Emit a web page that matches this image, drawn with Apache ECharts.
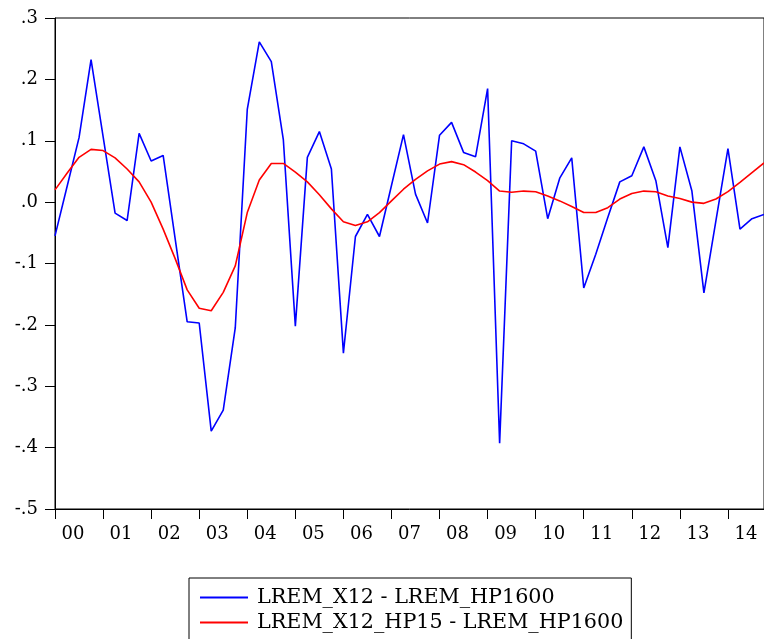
<!DOCTYPE html>
<html>
<head>
<meta charset="utf-8">
<script src="https://cdn.jsdelivr.net/npm/echarts@6/dist/echarts.min.js"></script>
<style>
  html, body { margin: 0; padding: 0; background: #fff; }
  #main { width: 764px; height: 639px; }
</style>
</head>
<body>
<div id="main"></div>
<script>
// 年份标签 (2000-2014, 季度数据)
var years = ['00', '01', '02', '03', '04', '05', '06', '07', '08', '09', '10', '11', '12', '13', '14'];

// LREM_X12 - LREM_HP1600
var gapX12 = [
    -0.055, 0.025, 0.105, 0.232, 0.107, -0.018, -0.030, 0.112, 0.067, 0.076,
    -0.060, -0.195, -0.197, -0.373, -0.339, -0.205, 0.151, 0.261, 0.229, 0.102,
    -0.202, 0.073, 0.115, 0.054, -0.246, -0.056, -0.020, -0.056, 0.027, 0.110,
    0.013, -0.034, 0.109, 0.130, 0.081, 0.074, 0.185, -0.393, 0.100, 0.095,
    0.083, -0.027, 0.039, 0.072, -0.140, -0.085, -0.025, 0.033, 0.043, 0.090,
    0.035, -0.074, 0.090, 0.018, -0.148, -0.030, 0.087, -0.044, -0.027, -0.020
];

// LREM_X12_HP15 - LREM_HP1600
var gapHP15 = [
    0.020, 0.047, 0.073, 0.086, 0.084, 0.072, 0.054, 0.033, 0.000, -0.044,
    -0.092, -0.143, -0.173, -0.177, -0.147, -0.104, -0.017, 0.036, 0.063, 0.063,
    0.049, 0.033, 0.012, -0.011, -0.032, -0.038, -0.032, -0.017, 0.002, 0.021,
    0.037, 0.051, 0.062, 0.066, 0.061, 0.049, 0.035, 0.018, 0.016, 0.018,
    0.017, 0.010, 0.002, -0.007, -0.017, -0.017, -0.009, 0.005, 0.014, 0.018,
    0.017, 0.010, 0.006, 0.000, -0.002, 0.005, 0.017, 0.032, 0.048, 0.064
];

var seriesNames = ['LREM_X12 - LREM_HP1600', 'LREM_X12_HP15 - LREM_HP1600'];

// 季度类目
var quarters = [];
years.forEach(function (y) {
    for (var q = 1; q <= 4; q++) {
        quarters.push(y + 'Q' + q);
    }
});

var font = '"DejaVu Serif", "Liberation Serif", serif';

var chart = echarts.init(document.getElementById('main'));
chart.setOption({
    backgroundColor: '#fff',
    animation: false,
    grid: {
        left: 55, right: 0, top: 18, bottom: 130,
        show: true, borderColor: '#000', borderWidth: 1
    },
    legend: {
        data: seriesNames,
        orient: 'vertical',
        left: 189, top: 578,
        height: 50,
        padding: [7, 8, 7, 11],
        itemGap: 0,
        itemWidth: 48,
        itemHeight: 2,
        icon: 'rect',
        borderColor: '#000',
        borderWidth: 1,
        textStyle: { fontFamily: font, fontSize: 20.7, color: '#000', lineHeight: 25, padding: [0, 0, 0, 4] }
    },
    xAxis: {
        type: 'category',
        data: quarters,
        boundaryGap: false,
        axisLine: { onZero: false, lineStyle: { color: '#000', width: 1 } },
        axisTick: {
            length: 10,
            interval: function (idx) { return idx % 4 === 0; },
            lineStyle: { color: '#000' }
        },
        axisLabel: {
            interval: function (idx) { return idx % 4 === 0; },
            formatter: function (v) { return v.slice(0, 2); },
            fontFamily: font, fontSize: 18, color: '#000',
            margin: 16,
            padding: [0, 0, 0, 36]
        },
        splitLine: { show: false }
    },
    yAxis: {
        type: 'value',
        min: -0.5, max: 0.3, interval: 0.1,
        axisLine: { show: true, lineStyle: { color: '#000', width: 1 } },
        axisTick: { show: true, length: 10, lineStyle: { color: '#000' } },
        axisLabel: {
            formatter: function (v) { return v.toFixed(1).replace('0.', '.'); },
            fontFamily: font, fontSize: 18, color: '#000',
            margin: 17
        },
        splitLine: { show: false }
    },
    series: [
        {
            name: seriesNames[0],
            type: 'line',
            data: gapX12,
            symbol: 'none',
            lineStyle: { color: '#0000ff', width: 1.6 },
            itemStyle: { color: '#0000ff' }
        },
        {
            name: seriesNames[1],
            type: 'line',
            data: gapHP15,
            symbol: 'none',
            lineStyle: { color: '#ff0000', width: 1.6 },
            itemStyle: { color: '#ff0000' }
        }
    ]
});
</script>
</body>
</html>
